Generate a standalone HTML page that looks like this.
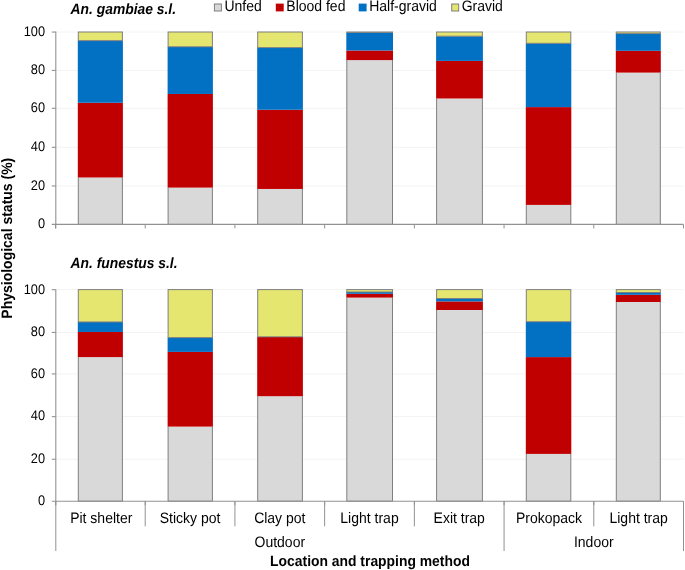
<!DOCTYPE html>
<html><head><meta charset="utf-8"><style>
html,body{margin:0;padding:0;background:#fff;}
svg{display:block;will-change:transform;text-rendering:geometricPrecision;font-family:"Liberation Sans", sans-serif;font-size:14px;}
text{fill:#000;}
</style></head><body>
<svg width="685" height="570" viewBox="0 0 685 570">
<rect width="685" height="570" fill="#fff"/>
<line x1="55.5" x2="683.5" y1="186" y2="186" stroke="#F3F3F3"/>
<line x1="55.5" x2="683.5" y1="147.3" y2="147.3" stroke="#F3F3F3"/>
<line x1="55.5" x2="683.5" y1="108.3" y2="108.3" stroke="#F3F3F3"/>
<line x1="55.5" x2="683.5" y1="70.4" y2="70.4" stroke="#F3F3F3"/>
<line x1="55.5" x2="683.5" y1="32.07" y2="32.07" stroke="#F3F3F3"/>
<rect x="78.3" y="177.5" width="44.1" height="46.9" fill="#D9D9D9"/>
<path d="M78.3 177.5V224.4H122.4V177.5" fill="none" stroke="#7F7F7F"/>
<rect x="77.8" y="102.76" width="45.1" height="74.74" fill="#C00000"/>
<rect x="77.8" y="40.63" width="45.1" height="62.13" fill="#0271C3"/>
<rect x="78.3" y="32" width="44.1" height="8.63" fill="#E4E670" stroke="#7F7F7F"/>
<rect x="168.1" y="187.6" width="44.3" height="36.8" fill="#D9D9D9"/>
<path d="M168.1 187.6V224.4H212.4V187.6" fill="none" stroke="#7F7F7F"/>
<rect x="167.6" y="93.97" width="45.3" height="93.63" fill="#C00000"/>
<rect x="167.6" y="46.76" width="45.3" height="47.21" fill="#0271C3"/>
<rect x="168.1" y="32" width="44.3" height="14.76" fill="#E4E670" stroke="#7F7F7F"/>
<rect x="257.7" y="188.95" width="44.7" height="35.45" fill="#D9D9D9"/>
<path d="M257.7 188.95V224.4H302.4V188.95" fill="none" stroke="#7F7F7F"/>
<rect x="257.2" y="109.75" width="45.7" height="79.2" fill="#C00000"/>
<rect x="257.2" y="47.6" width="45.7" height="62.15" fill="#0271C3"/>
<rect x="257.7" y="32" width="44.7" height="15.6" fill="#E4E670" stroke="#7F7F7F"/>
<rect x="346.8" y="60.1" width="45.7" height="164.3" fill="#D9D9D9"/>
<path d="M346.8 60.1V224.4H392.5V60.1" fill="none" stroke="#7F7F7F"/>
<rect x="346.3" y="50.5" width="46.7" height="9.6" fill="#C00000"/>
<rect x="346.3" y="32.4" width="46.7" height="18.1" fill="#0271C3"/>
<rect x="346.8" y="32" width="45.7" height="0.4" fill="#E4E670" stroke="#7F7F7F"/>
<rect x="436.6" y="98.5" width="45.8" height="125.9" fill="#D9D9D9"/>
<path d="M436.6 98.5V224.4H482.4V98.5" fill="none" stroke="#7F7F7F"/>
<rect x="436.1" y="60.9" width="46.8" height="37.6" fill="#C00000"/>
<rect x="436.1" y="36.2" width="46.8" height="24.7" fill="#0271C3"/>
<rect x="436.6" y="32" width="45.8" height="4.2" fill="#E4E670" stroke="#7F7F7F"/>
<rect x="526.3" y="204.9" width="44.5" height="19.5" fill="#D9D9D9"/>
<path d="M526.3 204.9V224.4H570.8V204.9" fill="none" stroke="#7F7F7F"/>
<rect x="525.8" y="107.1" width="45.5" height="97.8" fill="#C00000"/>
<rect x="525.8" y="43.3" width="45.5" height="63.8" fill="#0271C3"/>
<rect x="526.3" y="32" width="44.5" height="11.3" fill="#E4E670" stroke="#7F7F7F"/>
<rect x="616.3" y="72.6" width="44" height="151.8" fill="#D9D9D9"/>
<path d="M616.3 72.6V224.4H660.3V72.6" fill="none" stroke="#7F7F7F"/>
<rect x="615.8" y="50.8" width="45" height="21.8" fill="#C00000"/>
<rect x="615.8" y="33.6" width="45" height="17.2" fill="#0271C3"/>
<rect x="616.3" y="32" width="44" height="1.6" fill="#E4E670" stroke="#7F7F7F"/>
<line x1="55.8" x2="55.8" y1="31.57" y2="228.4" stroke="#929292" stroke-width="1.1"/>
<line x1="51.8" x2="683.5" y1="224.4" y2="224.4" stroke="#929292" stroke-width="1.1"/>
<line x1="51.8" x2="55.8" y1="186" y2="186" stroke="#929292" stroke-width="1.1"/>
<line x1="51.8" x2="55.8" y1="147.3" y2="147.3" stroke="#929292" stroke-width="1.1"/>
<line x1="51.8" x2="55.8" y1="108.3" y2="108.3" stroke="#929292" stroke-width="1.1"/>
<line x1="51.8" x2="55.8" y1="70.4" y2="70.4" stroke="#929292" stroke-width="1.1"/>
<line x1="51.8" x2="55.8" y1="32.07" y2="32.07" stroke="#929292" stroke-width="1.1"/>
<line x1="55.5" x2="55.5" y1="224.4" y2="228.4" stroke="#929292"/>
<line x1="145.21" x2="145.21" y1="224.4" y2="228.4" stroke="#929292"/>
<line x1="234.93" x2="234.93" y1="224.4" y2="228.4" stroke="#929292"/>
<line x1="324.64" x2="324.64" y1="224.4" y2="228.4" stroke="#929292"/>
<line x1="414.36" x2="414.36" y1="224.4" y2="228.4" stroke="#929292"/>
<line x1="504.07" x2="504.07" y1="224.4" y2="228.4" stroke="#929292"/>
<line x1="593.79" x2="593.79" y1="224.4" y2="228.4" stroke="#929292"/>
<line x1="683.5" x2="683.5" y1="224.4" y2="228.4" stroke="#929292"/>
<text transform="translate(45,228.2) scale(0.9174,1.0001)" text-anchor="end" font-size="13.95">0</text>
<text transform="translate(45,189.8) scale(0.9174,1.0001)" text-anchor="end" font-size="13.95">20</text>
<text transform="translate(45,151.1) scale(0.9174,1.0001)" text-anchor="end" font-size="13.95">40</text>
<text transform="translate(45,112.1) scale(0.9174,1.0001)" text-anchor="end" font-size="13.95">60</text>
<text transform="translate(45,74.2) scale(0.9174,1.0001)" text-anchor="end" font-size="13.95">80</text>
<text transform="translate(45,35.87) scale(0.9174,1.0001)" text-anchor="end" font-size="13.95">100</text>
<text transform="translate(70.6,13.9) scale(0.9259,1.0001)" font-weight="bold" font-style="italic" font-size="14.96">An. gambiae s.l.</text>
<line x1="55.5" x2="683.5" y1="459.25" y2="459.25" stroke="#F3F3F3"/>
<line x1="55.5" x2="683.5" y1="416.65" y2="416.65" stroke="#F3F3F3"/>
<line x1="55.5" x2="683.5" y1="373.9" y2="373.9" stroke="#F3F3F3"/>
<line x1="55.5" x2="683.5" y1="332.45" y2="332.45" stroke="#F3F3F3"/>
<line x1="55.5" x2="683.5" y1="289.7" y2="289.7" stroke="#F3F3F3"/>
<rect x="78.3" y="357.1" width="44.1" height="144.1" fill="#D9D9D9"/>
<path d="M78.3 357.1V501.2H122.4V357.1" fill="none" stroke="#7F7F7F"/>
<rect x="77.8" y="331.96" width="45.1" height="25.14" fill="#C00000"/>
<rect x="77.8" y="321.95" width="45.1" height="10.01" fill="#0271C3"/>
<rect x="78.3" y="289.6" width="44.1" height="32.35" fill="#E4E670" stroke="#7F7F7F"/>
<rect x="168.1" y="426.6" width="44.3" height="74.6" fill="#D9D9D9"/>
<path d="M168.1 426.6V501.2H212.4V426.6" fill="none" stroke="#7F7F7F"/>
<rect x="167.6" y="351.9" width="45.3" height="74.7" fill="#C00000"/>
<rect x="167.6" y="337.6" width="45.3" height="14.3" fill="#0271C3"/>
<rect x="168.1" y="289.6" width="44.3" height="48" fill="#E4E670" stroke="#7F7F7F"/>
<rect x="257.7" y="396.2" width="44.7" height="105" fill="#D9D9D9"/>
<path d="M257.7 396.2V501.2H302.4V396.2" fill="none" stroke="#7F7F7F"/>
<rect x="257.2" y="336.8" width="45.7" height="59.4" fill="#C00000"/>
<rect x="257.7" y="289.6" width="44.7" height="47.2" fill="#E4E670" stroke="#7F7F7F"/>
<rect x="346.8" y="297.6" width="45.7" height="203.6" fill="#D9D9D9"/>
<path d="M346.8 297.6V501.2H392.5V297.6" fill="none" stroke="#7F7F7F"/>
<rect x="346.3" y="293.8" width="46.7" height="3.8" fill="#C00000"/>
<rect x="346.3" y="292" width="46.7" height="1.8" fill="#0271C3"/>
<rect x="346.8" y="289.6" width="45.7" height="2.4" fill="#E4E670" stroke="#7F7F7F"/>
<rect x="436.6" y="310" width="45.8" height="191.2" fill="#D9D9D9"/>
<path d="M436.6 310V501.2H482.4V310" fill="none" stroke="#7F7F7F"/>
<rect x="436.1" y="301.4" width="46.8" height="8.6" fill="#C00000"/>
<rect x="436.1" y="298.5" width="46.8" height="2.9" fill="#0271C3"/>
<rect x="436.6" y="289.6" width="45.8" height="8.9" fill="#E4E670" stroke="#7F7F7F"/>
<rect x="526.3" y="453.9" width="44.5" height="47.3" fill="#D9D9D9"/>
<path d="M526.3 453.9V501.2H570.8V453.9" fill="none" stroke="#7F7F7F"/>
<rect x="525.8" y="357.1" width="45.5" height="96.8" fill="#C00000"/>
<rect x="525.8" y="321.7" width="45.5" height="35.4" fill="#0271C3"/>
<rect x="526.3" y="289.6" width="44.5" height="32.1" fill="#E4E670" stroke="#7F7F7F"/>
<rect x="616.3" y="302" width="44" height="199.2" fill="#D9D9D9"/>
<path d="M616.3 302V501.2H660.3V302" fill="none" stroke="#7F7F7F"/>
<rect x="615.8" y="294.8" width="45" height="7.2" fill="#C00000"/>
<rect x="615.8" y="292.5" width="45" height="2.3" fill="#0271C3"/>
<rect x="616.3" y="289.6" width="44" height="2.9" fill="#E4E670" stroke="#7F7F7F"/>
<line x1="55.8" x2="55.8" y1="289.2" y2="505.2" stroke="#929292" stroke-width="1.1"/>
<line x1="51.8" x2="683.5" y1="501.2" y2="501.2" stroke="#929292" stroke-width="1.1"/>
<line x1="51.8" x2="55.8" y1="459.25" y2="459.25" stroke="#929292" stroke-width="1.1"/>
<line x1="51.8" x2="55.8" y1="416.65" y2="416.65" stroke="#929292" stroke-width="1.1"/>
<line x1="51.8" x2="55.8" y1="373.9" y2="373.9" stroke="#929292" stroke-width="1.1"/>
<line x1="51.8" x2="55.8" y1="332.45" y2="332.45" stroke="#929292" stroke-width="1.1"/>
<line x1="51.8" x2="55.8" y1="289.7" y2="289.7" stroke="#929292" stroke-width="1.1"/>
<line x1="55.5" x2="55.5" y1="501.2" y2="505.2" stroke="#929292"/>
<line x1="145.21" x2="145.21" y1="501.2" y2="505.2" stroke="#929292"/>
<line x1="234.93" x2="234.93" y1="501.2" y2="505.2" stroke="#929292"/>
<line x1="324.64" x2="324.64" y1="501.2" y2="505.2" stroke="#929292"/>
<line x1="414.36" x2="414.36" y1="501.2" y2="505.2" stroke="#929292"/>
<line x1="504.07" x2="504.07" y1="501.2" y2="505.2" stroke="#929292"/>
<line x1="593.79" x2="593.79" y1="501.2" y2="505.2" stroke="#929292"/>
<line x1="683.5" x2="683.5" y1="501.2" y2="505.2" stroke="#929292"/>
<text transform="translate(45,505) scale(0.9174,1.0001)" text-anchor="end" font-size="13.95">0</text>
<text transform="translate(45,463.05) scale(0.9174,1.0001)" text-anchor="end" font-size="13.95">20</text>
<text transform="translate(45,420.45) scale(0.9174,1.0001)" text-anchor="end" font-size="13.95">40</text>
<text transform="translate(45,377.7) scale(0.9174,1.0001)" text-anchor="end" font-size="13.95">60</text>
<text transform="translate(45,336.25) scale(0.9174,1.0001)" text-anchor="end" font-size="13.95">80</text>
<text transform="translate(45,293.5) scale(0.9174,1.0001)" text-anchor="end" font-size="13.95">100</text>
<text transform="translate(70.6,267.9) scale(0.9259,1.0001)" font-weight="bold" font-style="italic" font-size="14.96">An. funestus s.l.</text>
<line x1="55.8" x2="55.8" y1="501.2" y2="551" stroke="#929292"/>
<line x1="145.21" x2="145.21" y1="501.2" y2="526.3" stroke="#929292"/>
<line x1="234.93" x2="234.93" y1="501.2" y2="526.3" stroke="#929292"/>
<line x1="324.64" x2="324.64" y1="501.2" y2="526.3" stroke="#929292"/>
<line x1="414.36" x2="414.36" y1="501.2" y2="526.3" stroke="#929292"/>
<line x1="504.07" x2="504.07" y1="501.2" y2="551" stroke="#929292"/>
<line x1="593.79" x2="593.79" y1="501.2" y2="526.3" stroke="#929292"/>
<line x1="683.5" x2="683.5" y1="501.2" y2="551" stroke="#929292"/>
<text transform="translate(101.26,522.5) scale(0.9259,1.0001)" text-anchor="middle" font-size="15.12">Pit shelter</text>
<text transform="translate(190.07,522.5) scale(0.9259,1.0001)" text-anchor="middle" font-size="15.12">Sticky pot</text>
<text transform="translate(279.79,522.5) scale(0.9259,1.0001)" text-anchor="middle" font-size="15.12">Clay pot</text>
<text transform="translate(369.5,522.5) scale(0.9259,1.0001)" text-anchor="middle" font-size="15.12">Light trap</text>
<text transform="translate(459.21,522.5) scale(0.9259,1.0001)" text-anchor="middle" font-size="15.12">Exit trap</text>
<text transform="translate(548.93,522.5) scale(0.9259,1.0001)" text-anchor="middle" font-size="15.12">Prokopack</text>
<text transform="translate(638.64,522.5) scale(0.9259,1.0001)" text-anchor="middle" font-size="15.12">Light trap</text>
<text transform="translate(279.79,546.9) scale(0.9259,1.0001)" text-anchor="middle" font-size="15.12">Outdoor</text>
<text transform="translate(593.79,546.9) scale(0.9259,1.0001)" text-anchor="middle" font-size="15.12">Indoor</text>
<text transform="translate(370,565.5) scale(0.9259,1.0001)" text-anchor="middle" font-weight="bold" font-size="15.01">Location and trapping method</text>
<text transform="translate(11.8,238.2) rotate(-90) scale(0.9259,1.0001)" text-anchor="middle" font-weight="bold" font-size="15.12">Physiological status (%)</text>
<rect x="214.4" y="4" width="7" height="7" fill="#D9D9D9" stroke="#7F7F7F"/>
<text transform="translate(224.4,11.2) scale(0.9259,1.0001)" font-size="15.12">Unfed</text>
<rect x="275.8" y="3.6" width="7.9" height="7.8" fill="#C00000"/>
<text transform="translate(286.3,11.2) scale(0.9259,1.0001)" font-size="15.12">Blood fed</text>
<rect x="358.7" y="3.6" width="7.9" height="7.8" fill="#0271C3"/>
<text transform="translate(369.2,11.2) scale(0.9259,1.0001)" font-size="15.12">Half-gravid</text>
<rect x="451.7" y="4" width="7" height="7" fill="#E4E670" stroke="#7F7F7F"/>
<text transform="translate(461.7,11.2) scale(0.9259,1.0001)" font-size="15.12">Gravid</text>
</svg>
</body></html>
